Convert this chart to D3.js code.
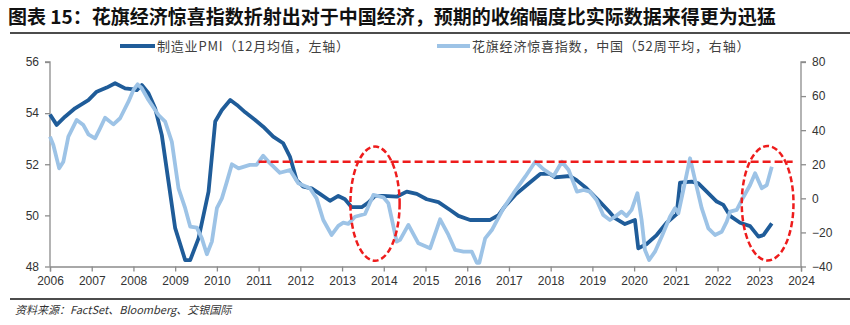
<!DOCTYPE html>
<html><head><meta charset="utf-8">
<script src="https://cdn.jsdelivr.net/npm/d3@7"></script>
<style>
html,body{margin:0;padding:0;background:#fff;}
svg text{font-family:"Liberation Sans",Arial,sans-serif;}
</style></head>
<body><svg id="c" width="850" height="325"></svg>
<script>
const titleText = "图表 15：花旗经济惊喜指数折射出对于中国经济，预期的收缩幅度比实际数据来得更为迅猛";
const sourceText = "资料来源：FactSet、Bloomberg、交银国际";
const seriesNames = ["制造业PMI（12月均值，左轴）", "花旗经济惊喜指数，中国（52周平均，右轴）"];
const xTicks = [2006,2007,2008,2009,2010,2011,2012,2013,2014,2015,2016,2017,2018,2019,2020,2021,2022,2023,2024];
const leftTicks = [48,50,52,54,56];
const rightTicks = [-40,-20,0,20,40,60,80];

const pmiYears = [2006.0,2006.16,2006.36,2006.6,2006.92,2007.12,2007.36,2007.56,2007.8,2007.96,2008.08,2008.2,2008.36,2008.52,2008.68,2008.84,2009.0,2009.24,2009.36,2009.56,2009.8,2009.96,2010.12,2010.32,2010.48,2010.68,2010.91,2011.11,2011.35,2011.59,2011.75,2011.91,2012.07,2012.27,2012.47,2012.71,2012.91,2013.07,2013.23,2013.47,2013.63,2013.79,2013.99,2014.31,2014.55,2014.79,2015.03,2015.31,2015.59,2015.79,2016.07,2016.55,2016.75,2016.91,2017.15,2017.43,2017.75,2017.98,2018.1,2018.46,2018.62,2018.86,2019.14,2019.4,2019.54,2019.78,2020.02,2020.1,2020.3,2020.54,2020.78,2021.02,2021.1,2021.38,2021.54,2021.74,2021.98,2022.14,2022.3,2022.54,2022.78,2022.98,2023.1,2023.3];
const pmiValues = [53.95,53.54,53.86,54.19,54.51,54.84,55.0,55.17,54.97,54.94,54.9,55.1,54.78,54.19,53.14,51.32,49.5,48.25,48.25,49.1,50.93,53.67,54.12,54.51,54.32,54.03,53.74,53.47,53.08,52.82,52.3,51.38,51.12,51.06,50.84,50.57,50.76,50.63,50.32,50.32,50.5,50.76,50.76,50.73,50.93,50.84,50.63,50.52,50.21,49.98,49.82,49.82,50.01,50.37,50.8,51.19,51.62,51.62,51.49,51.54,51.38,51.06,50.6,50.15,49.89,49.66,49.82,48.71,48.88,49.23,49.71,50.05,51.28,51.32,51.25,50.93,50.54,50.41,49.98,49.71,49.58,49.17,49.23,49.69];

const cesiYears = [2006.0,2006.08,2006.22,2006.32,2006.44,2006.64,2006.8,2006.92,2007.08,2007.2,2007.32,2007.52,2007.68,2007.88,2008.0,2008.1,2008.2,2008.36,2008.6,2008.76,2008.92,2009.08,2009.24,2009.36,2009.52,2009.64,2009.76,2009.88,2010.0,2010.12,2010.24,2010.36,2010.52,2010.79,2010.95,2011.11,2011.27,2011.51,2011.75,2011.95,2012.23,2012.39,2012.55,2012.75,2012.91,2013.03,2013.15,2013.31,2013.55,2013.75,2013.99,2014.11,2014.31,2014.39,2014.59,2014.83,2015.11,2015.35,2015.55,2015.71,2015.91,2016.11,2016.23,2016.29,2016.43,2016.59,2016.87,2017.11,2017.39,2017.63,2017.83,2018.07,2018.27,2018.43,2018.63,2018.79,2018.94,2019.1,2019.26,2019.42,2019.54,2019.7,2019.82,2019.94,2020.08,2020.18,2020.26,2020.36,2020.5,2020.66,2020.86,2020.98,2021.06,2021.18,2021.34,2021.46,2021.62,2021.78,2021.94,2022.1,2022.22,2022.3,2022.46,2022.58,2022.78,2022.9,2023.06,2023.18,2023.3];
const cesiValues = [36.2,31.3,17.6,21.5,36.2,46.0,43.0,37.6,35.2,41.1,47.3,43.4,47,56.7,63.6,66.9,64.6,57.7,48.9,45,33.2,5.9,-5.8,-16.6,-17.2,-23.5,-32.8,-25.4,-5.8,0,9.8,20,17.6,19.6,19.6,25.0,20.6,15,16.6,8.8,5.9,0,-12.7,-21.5,-16.2,-14.3,-15,-10.8,-9.2,2,0.6,-2.9,-25.4,-24.4,-15.6,-26.4,-29.3,-12.3,-21.5,-30.3,-31.3,-31.3,-37.8,-37.8,-23.5,-18.6,-5.8,3,12.7,21.5,17,13.1,21.5,16.6,3.9,4.9,3.9,-1,-9.8,-12.7,-10.8,-7.8,-10.4,-6.8,3,-12.7,-30.3,-36.2,-31.3,-22.5,-10.8,-5.8,-8.8,4.9,23.5,10.8,-5.8,-17.6,-21.5,-19.6,-13.7,-7.8,-6.8,-1,7.8,14.7,5.9,7.8,18.6];

// annotation: reference line (right-axis units) and ellipses (years / right-axis units)
const refLine = {from: 2011.0, to: 2023.8, value: 21.5};
const ellipses = [
  {cx: 2013.79, cy: -3.1, rx: 0.59, ry: 33.5},
  {cx: 2023.2, cy: -2.9, rx: 0.62, ry: 33.6}
];

const svg = d3.select("#c");
const M = {left: 50, right: 801, top: 62, bottom: 266.5};
const x = d3.scaleLinear().domain([2006, 2024]).range([M.left, M.right]);
const yL = d3.scaleLinear().domain([48, 56]).range([M.bottom, M.top]);
const yR = d3.scaleLinear().domain([-40, 80]).range([M.bottom, M.top]);

const darkBlue = "#1f5c99", lightBlue = "#9dc3e6", red = "#ee1c1c", axisCol = "#8c8c8c";

// title
svg.append("text").attr("x", 8).attr("y", 24)
  .style("font-family", "'Noto Sans CJK SC', sans-serif").style("font-weight", "bold")
  .style("font-size", "19px").attr("fill", "#111").text(titleText);
svg.append("line").attr("x1", 10).attr("x2", 850).attr("y1", 33).attr("y2", 33)
  .attr("stroke", "#111").attr("stroke-width", 1.5);

// legend
const legend = [
  {x1: 120, x2: 155, color: darkBlue, text: seriesNames[0]},
  {x1: 437, x2: 470, color: lightBlue, text: seriesNames[1]}
];
legend.forEach(l => {
  svg.append("line").attr("x1", l.x1).attr("x2", l.x2).attr("y1", 46).attr("y2", 46)
    .attr("stroke", l.color).attr("stroke-width", 4);
  svg.append("text").attr("x", l.x2 + 2).attr("y", 50.5)
    .style("font-family", "'Noto Sans CJK SC', sans-serif").style("font-size", "13px")
    .style("letter-spacing", "0.8px")
    .attr("fill", "#404040").text(l.text);
});

// axes
const gx = svg.append("g").attr("transform", `translate(0,${M.bottom})`)
  .call(d3.axisBottom(x).tickValues(xTicks).tickFormat(d3.format("d")).tickSize(5).tickPadding(5));
const gl = svg.append("g").attr("transform", `translate(${M.left},0)`)
  .call(d3.axisLeft(yL).tickValues(leftTicks).tickSize(5).tickPadding(6));
const gr = svg.append("g").attr("transform", `translate(${M.right},0)`)
  .call(d3.axisRight(yR).tickValues(rightTicks).tickSize(5).tickPadding(6));
[gx, gl, gr].forEach(g => {
  g.select(".domain").attr("stroke", axisCol).attr("stroke-width", 1.3);
  g.selectAll(".tick line").attr("stroke", axisCol).attr("stroke-width", 1.3);
  g.selectAll(".tick text").attr("fill", "#333").style("font-size", "12px")
    .style("font-family", "'Liberation Sans', Arial, sans-serif");
});
gl.selectAll(".domain").attr("d", `M-5,${M.top}H0V${M.bottom}`);
gr.selectAll(".domain").attr("d", `M5,${M.top}H0V${M.bottom}`);

// lines
const pmiData = pmiYears.map((t, i) => [t, pmiValues[i]]);
const cesiData = cesiYears.map((t, i) => [t, cesiValues[i]]);
svg.append("path").datum(pmiData)
  .attr("d", d3.line().x(d => x(d[0])).y(d => yL(d[1])))
  .attr("fill", "none").attr("stroke", darkBlue).attr("stroke-width", 3.8).attr("stroke-linejoin", "round");
svg.append("path").datum(cesiData)
  .attr("d", d3.line().x(d => x(d[0])).y(d => yR(d[1])))
  .attr("fill", "none").attr("stroke", lightBlue).attr("stroke-width", 3.8).attr("stroke-linejoin", "round");

// red dashed reference line
svg.append("line")
  .attr("x1", x(refLine.from)).attr("x2", x(refLine.to))
  .attr("y1", yR(refLine.value)).attr("y2", yR(refLine.value))
  .attr("stroke", red).attr("stroke-width", 2.5).attr("stroke-dasharray", "8,4");

// ellipses
svg.selectAll("ellipse.ann").data(ellipses).enter().append("ellipse")
  .attr("cx", d => x(d.cx)).attr("cy", d => yR(d.cy))
  .attr("rx", d => x(d.cx + d.rx) - x(d.cx)).attr("ry", d => yR(d.cy) - yR(d.cy + d.ry))
  .attr("fill", "none").attr("stroke", red).attr("stroke-width", 2.5).attr("stroke-dasharray", "6,3");

// source
svg.append("line").attr("x1", 10).attr("x2", 850).attr("y1", 299).attr("y2", 299)
  .attr("stroke", "#111").attr("stroke-width", 1.3);
svg.append("text").attr("x", 15).attr("y", 314)
  .style("font-family", "'Noto Sans CJK SC', sans-serif").style("font-style", "italic")
  .style("font-size", "11px").attr("fill", "#333").text(sourceText);
</script></body></html>
